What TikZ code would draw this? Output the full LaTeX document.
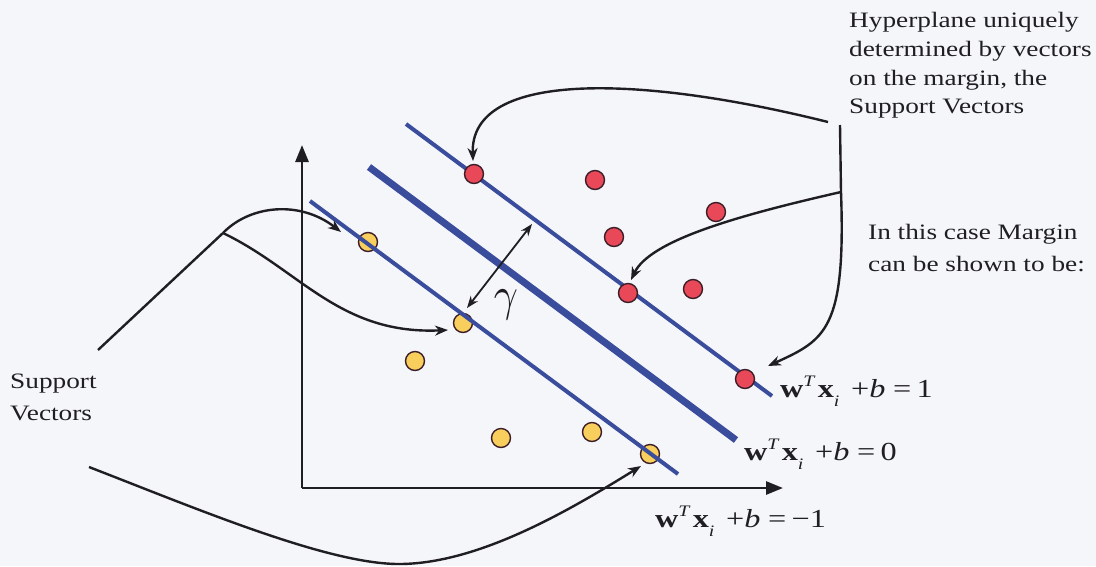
\documentclass[tikz,border=0pt]{standalone}
\usepackage{graphicx}
\usepackage{fontspec}
\setmainfont[FakeStretch=1.24]{Liberation Serif}
\usetikzlibrary{arrows.meta}
\definecolor{bgc}{RGB}{245,246,250}
\definecolor{hblue}{RGB}{58,76,156}
\definecolor{ptred}{RGB}{232,72,88}
\definecolor{ptyel}{RGB}{248,206,92}
\definecolor{ptout}{RGB}{60,30,40}
\definecolor{ink}{RGB}{30,30,35}
\newcommand{\wxlab}[1]{\textbf{w}\raisebox{0.42em}{\fontsize{16}{16}\selectfont\textit{T}}\hspace{0.08em}\textbf{x}\raisebox{-0.35em}{\fontsize{16}{16}\selectfont\textit{i}}\hspace{0.45em}+\textit{b}\hspace{0.3em}=\hspace{0.2em}#1}
\tikzset{
  redpt/.style={circle,minimum size=19pt,inner sep=0pt,draw=ptout,line width=1.4pt,fill=ptred},
  yelpt/.style={circle,minimum size=19pt,inner sep=0pt,draw=ptout,line width=1.4pt,fill=ptyel},
  hplane/.style={hblue,line width=4pt},
  hmain/.style={hblue,line width=7pt},
  axisline/.style={ink,line width=2.8pt,-{Triangle[length=17pt,width=13pt]}},
  callout/.style={ink,line width=2.4pt,-{Stealth[length=13pt,width=10pt]}},
  calloutplain/.style={ink,line width=2.4pt},
  lab/.style={inner sep=0pt,anchor=base west,text=ink,font=\fontsize{22}{29}\selectfont},
  eqlab/.style={inner sep=0pt,anchor=base west,text=ink,font=\fontsize{26}{29}\selectfont},
}
\begin{document}
\begin{tikzpicture}[x=1pt,y=-1pt]
\useasboundingbox (0,0) rectangle (1096,566);
\fill[bgc] (0,0) rectangle (1096,566);
% axes
\coordinate (O) at (302,488);
\coordinate (ytop) at (302,145);
\coordinate (xend) at (783,488);
\draw[axisline] (O) -- (ytop);
\draw[axisline] (O) -- (xend);
% yellow points
\node[yelpt] (y1) at (368,242) {};
\node[yelpt] (y2) at (463,323) {};
\node[yelpt] (y3) at (415,361) {};
\node[yelpt] (y4) at (501,438) {};
\node[yelpt] (y5) at (592,432) {};
\node[yelpt] (y6) at (650,454) {};
% hyperplanes
\coordinate (u1) at (406,124); \coordinate (u2) at (772,396);
\coordinate (m1) at (369,167); \coordinate (m2) at (736,440);
\coordinate (l1) at (310,201); \coordinate (l2) at (678,474);
\draw[hplane] (u1) -- (u2);
\draw[hmain] (m1) -- (m2);
\draw[hplane] (l1) -- (l2);
% red points
\node[redpt] (r1) at (474,174) {};
\node[redpt] (r2) at (595,180) {};
\node[redpt] (r3) at (716,212) {};
\node[redpt] (r4) at (614,237) {};
\node[redpt] (r5) at (628,293) {};
\node[redpt] (r6) at (693,289) {};
\node[redpt] (r7) at (745,379) {};
% margin arrow
\coordinate (g1) at (467,308);
\coordinate (g2) at (532,224);
\draw[ink,line width=1.8pt,{Stealth[length=12pt,width=9pt]}-{Stealth[length=12pt,width=9pt]}] (g1) -- (g2);
\node[inner sep=0pt,text=ink] (gam) at (506,305) {\fontsize{10}{10}\selectfont\scalebox{4.2}[4.8]{$\gamma$}};
% labels
\node[lab] (h1) at (849,27) {Hyperplane uniquely};
\node[lab] (h2) at (849,56) {determined by vectors};
\node[lab] (h3) at (849,85) {on the margin, the};
\node[lab] (h4) at (849,113) {Support Vectors};
\node[lab] (m1t) at (868,239) {In this case Margin};
\node[lab] (m2t) at (868,271) {can be shown to be:};
\node[lab] (s1) at (10,388) {Support};
\node[lab] (s2) at (10,420) {Vectors};
\node[eqlab] (e1) at (780,397) {\wxlab{1}};
\node[eqlab] (e0) at (744,460) {\wxlab{0}};
\node[eqlab] (em) at (655,527) {\wxlab{−1}};
% right callouts
\coordinate (ra) at (828,122);
\coordinate (rb) at (840,125);
\coordinate (rj) at (841,192);
\coordinate (t1) at (473,161);
\coordinate (t5) at (631,280);
\coordinate (t7) at (768,366);
\draw[callout] (ra) .. controls (640,75) and (470,70) .. (t1);
\draw[calloutplain] (rb) -- (rj);
\draw[callout] (rj) .. controls (846,330) and (825,340) .. (t7);
\draw[callout] (rj) .. controls (740,215) and (650,240) .. (t5);
% left callouts
\coordinate (la) at (98,350);
\coordinate (lj) at (223,233);
\coordinate (ty1) at (341,232);
\coordinate (ty2) at (448,330);
\draw[calloutplain] (la) -- (lj);
\draw[callout] (lj) .. controls (250,205) and (300,200) .. (ty1);
\draw[callout] (lj) .. controls (300,270) and (340,335) .. (ty2);
\coordinate (ba) at (89,467);
\coordinate (bm) at (401,564);
\coordinate (ty6) at (641,466);
\draw[callout] (ba) .. controls (200,510) and (330,565) .. (bm) .. controls (480,563) and (570,510) .. (ty6);
\end{tikzpicture}
\end{document}
